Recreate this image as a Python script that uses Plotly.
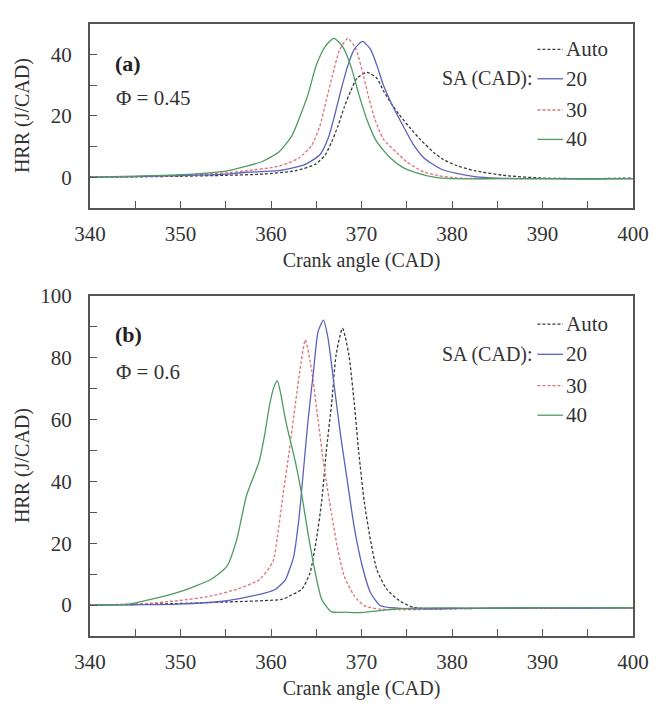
import plotly.graph_objects as go
from plotly.subplots import make_subplots

# ---------------- data: panel (a), Phi = 0.45 ----------------
a_auto_x = [340, 345, 350, 355, 359.1, 362.7, 364.9, 366.0, 366.7, 367.4, 368.1, 368.8, 369.5, 370.6,
            371.7, 372.4, 373.3, 374.2, 375.3, 376.5, 378, 379, 380.5, 382.5, 386, 390, 395, 400]
a_auto_y = [0, 0.1, 0.3, 0.6, 1.0, 2.1, 4.2, 7.3, 11.5, 16.7, 22.9, 28.1, 32.3, 34.2,
            32.3, 28.3, 24.0, 20.3, 16.3, 12.3, 8.0, 5.8, 3.8, 2.1, 0.5, -0.3, -0.5, -0.3]

a_20_x = [340, 345, 350, 355, 357.3, 360.9, 363.8, 365.4, 366.3, 367.0, 367.8, 368.5, 369.2, 370.1,
          371.0, 371.7, 372.4, 373.5, 374.6, 375.7, 377.0, 378.9, 380.5, 382.5, 385, 390, 395, 400]
a_20_y = [0, 0.2, 0.5, 1.0, 1.6, 2.1, 4.2, 7.3, 12.5, 19.8, 29.2, 36.5, 41.7, 44.3,
          41.7, 36.5, 30.2, 22.9, 16.7, 10.8, 6.0, 2.5, 1.2, 0.2, -0.3, -0.5, -0.5, -0.5]

a_30_x = [340, 345, 350, 355, 357.3, 360.9, 363.1, 364.5, 365.4, 366.1, 366.8, 367.6, 368.5, 369.4,
          370.1, 370.8, 371.5, 372.4, 373.9, 375.0, 376.8, 378.5, 380.7, 385, 390, 395, 400]
a_30_y = [0, 0.2, 0.6, 1.4, 2.1, 3.6, 6.25, 10.4, 16.7, 25.0, 33.3, 41.7, 45.3, 41.7,
          34.4, 26.0, 18.75, 12.5, 8.0, 5.0, 1.8, 0.5, -0.3, -0.5, -0.5, -0.5, -0.5]

a_40_x = [340, 345, 350, 355, 357.3, 359.1, 360.9, 362.3, 363.2, 364.1, 365.0, 366.0, 366.95, 367.9,
          368.8, 369.7, 370.6, 371.7, 373.2, 374.6, 376, 378, 380, 385, 390, 395, 400]
a_40_y = [0, 0.3, 0.8, 2.0, 3.6, 5.2, 8.3, 13.5, 19.8, 27.1, 36.5, 42.7, 45.3, 42.7,
          36.5, 27.1, 18.75, 11.5, 6.25, 3.1, 1.5, 0, -0.5, -0.5, -0.5, -0.6, -0.5]

# ---------------- data: panel (b), Phi = 0.6 ----------------
b_auto_x = [340, 345, 349.7, 355.1, 361.3, 362.0, 363.4, 364.3, 365.0, 365.6, 366.1, 366.7, 367.2, 367.9,
            368.6, 369.2, 369.7, 370.3, 371.0, 371.7, 372.8, 374.2, 375.7, 378, 380, 385, 390, 395, 400]
b_auto_y = [0, 0.2, 0.5, 1.0, 1.9, 2.9, 5.1, 10.3, 20.9, 33.5, 49.4, 65.2, 81.0, 89.5,
            81.0, 65.2, 49.4, 33.5, 20.9, 11.4, 5.1, 1.4, -0.7, -1.3, -1.2, -1.0, -1.0, -0.9, -0.9]

b_20_x = [340, 345, 349.7, 355.1, 359.5, 360.5, 361.3, 361.6, 362.5, 363.1, 363.6, 364.1, 364.7, 365.2,
          365.8, 366.3, 367.0, 367.7, 368.5, 369.2, 370.1, 371.0, 372.1, 374, 376, 380, 385, 390, 395, 400]
b_20_y = [0, 0.1, 0.3, 1.4, 4.0, 5.1, 7.2, 8.2, 15.6, 28.3, 44.0, 59.9, 75.7, 88.4,
          92.1, 86.3, 70.5, 54.7, 38.8, 25.1, 12.4, 4.0, -0.2, -1.0, -1.2, -1.1, -1.0, -0.9, -1.0, -0.9]

b_30_x = [340, 343, 346.1, 349.7, 353.3, 356.2, 358.7, 360.2, 360.7, 361.3, 362.0, 362.7, 363.3, 363.8,
          364.5, 365.2, 365.9, 366.7, 367.4, 368.1, 369.2, 370.3, 372, 375, 380, 385, 390, 395, 400]
b_30_y = [0, 0.2, 0.5, 1.4, 2.9, 5.1, 8.2, 14.0, 22.0, 35.0, 49.4, 65.2, 78.0, 85.8,
          75.7, 59.9, 44.0, 29.3, 17.7, 9.3, 3.0, -0.2, -1.3, -1.5, -1.2, -1.0, -1.0, -1.0, -0.9]

b_40_x = [340, 342, 344.3, 346.1, 349.7, 351.5, 353.3, 355.1, 356.2, 356.8, 357.3, 358.0, 358.7, 359.3,
          359.8, 360.3, 360.7, 361.1, 361.6, 362.7, 363.4, 364.1, 364.9, 365.6, 366.7, 368.1, 370, 372,
          374, 376, 380, 385, 390, 395, 400]
b_40_y = [0, 0.1, 0.3, 1.4, 4.1, 6.0, 8.2, 12.4, 21.0, 29.0, 35.5, 41.0, 46.5, 55.0,
          64.0, 70.3, 72.6, 68.0, 59.9, 46.2, 35.7, 23.0, 10.3, 1.9, -2.2, -2.3, -2.4, -1.8,
          -1.2, -1.0, -0.9, -1.0, -0.8, -0.9, -0.8]

series_names = ["Auto", "20", "30", "40"]
x_ticks = [340, 350, 360, 370, 380, 390, 400]
ya_ticks = [0, 20, 40]
yb_ticks = [0, 20, 40, 60, 80, 100]

# ---------------- styles ----------------
FONT = "Liberation Serif, Times New Roman, Times, serif"
TXT = "#333333"
colors = {"Auto": "#3a3a3a", "20": "#5d61b8", "30": "#e0707c", "40": "#4e9a62"}
dashes = {"Auto": "3px,2px", "20": "solid", "30": "3px,2px", "40": "solid"}

fig = make_subplots(rows=2, cols=1)

panel_a = {"Auto": (a_auto_x, a_auto_y), "20": (a_20_x, a_20_y), "30": (a_30_x, a_30_y), "40": (a_40_x, a_40_y)}
panel_b = {"Auto": (b_auto_x, b_auto_y), "20": (b_20_x, b_20_y), "30": (b_30_x, b_30_y), "40": (b_40_x, b_40_y)}

for row, panel in ((1, panel_a), (2, panel_b)):
    for name in ["Auto", "30", "20", "40"]:
        xs, ys = panel[name]
        fig.add_trace(go.Scatter(x=xs, y=ys, mode="lines", name=name, showlegend=False,
                                 line=dict(color=colors[name], width=1.3, dash=dashes[name],
                                           shape="spline", smoothing=0.6)),
                      row=row, col=1)

axis_common = dict(showline=True, mirror=True, linecolor="#555555", linewidth=2,
                   ticks="inside", ticklen=7, tickwidth=1.2, tickcolor="#555555",
                   showgrid=False, zeroline=False,
                   tickfont=dict(family=FONT, size=21, color=TXT))

fig.update_xaxes(**axis_common, range=[340, 400], tickvals=x_ticks, ticklabelstandoff=6,
                 minor=dict(dtick=5, ticks="inside", ticklen=7, tickcolor="#555555", tickwidth=1.2),
                 title=dict(text="Crank angle (CAD)", font=dict(family=FONT, size=20, color=TXT), standoff=8))
fig.update_yaxes(**axis_common, ticklabelstandoff=12)
fig.update_yaxes(range=[-10, 50], tickvals=ya_ticks,
                 minor=dict(tickvals=[10, 30], ticks="inside", ticklen=7, tickcolor="#555555", tickwidth=1.2),
                 domain=[0.6997, 1.0], row=1, col=1)
fig.update_yaxes(range=[-10, 100], tickvals=yb_ticks,
                 minor=dict(tickvals=[10, 30, 50, 70, 90], ticks="inside", ticklen=7, tickcolor="#555555", tickwidth=1.2),
                 domain=[0.0, 0.5559], row=2, col=1)

annotations = []
shapes = []

# y-axis titles
for yref_dom in ("y domain", "y2 domain"):
    annotations.append(dict(text="HRR (J/CAD)", xref="paper", x=-0.123, yref=yref_dom, y=0.5,
                            textangle=-90, showarrow=False, xanchor="center", yanchor="middle",
                            font=dict(family=FONT, size=20, color=TXT)))

# panel labels
panel_text = [("x domain", "y domain", "<b>(a)</b>", 0.787, "Φ = 0.45", 0.596),
              ("x2 domain", "y2 domain", "<b>(b)</b>", 0.885, "Φ = 0.6", 0.776)]
for xr, yr, lab, ylab, phi, yphi in panel_text:
    annotations.append(dict(text=lab, xref=xr, yref=yr, x=0.042, y=ylab, showarrow=False,
                            xanchor="left", yanchor="middle", font=dict(family=FONT, size=22, color="#222222")))
    annotations.append(dict(text=phi, xref=xr, yref=yr, x=0.045, y=yphi, showarrow=False,
                            xanchor="left", yanchor="middle", font=dict(family=FONT, size=21, color=TXT)))

# legends (drawn inside each panel)
legend_rows = {"y domain": [0.862, 0.702, 0.532, 0.372], "y2 domain": [0.917, 0.828, 0.736, 0.649]}
for xr, yr in (("x domain", "y domain"), ("x2 domain", "y2 domain")):
    rows = legend_rows[yr]
    for name, yy in zip(series_names, rows):
        shapes.append(dict(type="line", xref=xr, yref=yr, x0=0.824, x1=0.871, y0=yy, y1=yy,
                           line=dict(color=colors[name], width=1.3, dash=dashes[name])))
        annotations.append(dict(text=name, xref=xr, yref=yr, x=0.873, y=yy, showarrow=False,
                                xanchor="left", yanchor="middle", font=dict(family=FONT, size=21, color=TXT)))
    annotations.append(dict(text="SA (CAD):", xref=xr, yref=yr, x=0.820, y=rows[1], showarrow=False,
                            xanchor="right", yanchor="middle", font=dict(family=FONT, size=20, color=TXT)))

fig.update_layout(width=661, height=708, margin=dict(l=90, r=17, t=12, b=70),
                  paper_bgcolor="white", plot_bgcolor="white",
                  annotations=annotations, shapes=shapes, showlegend=False,
                  font=dict(family=FONT, color=TXT))

fig.write_html("out.html")
